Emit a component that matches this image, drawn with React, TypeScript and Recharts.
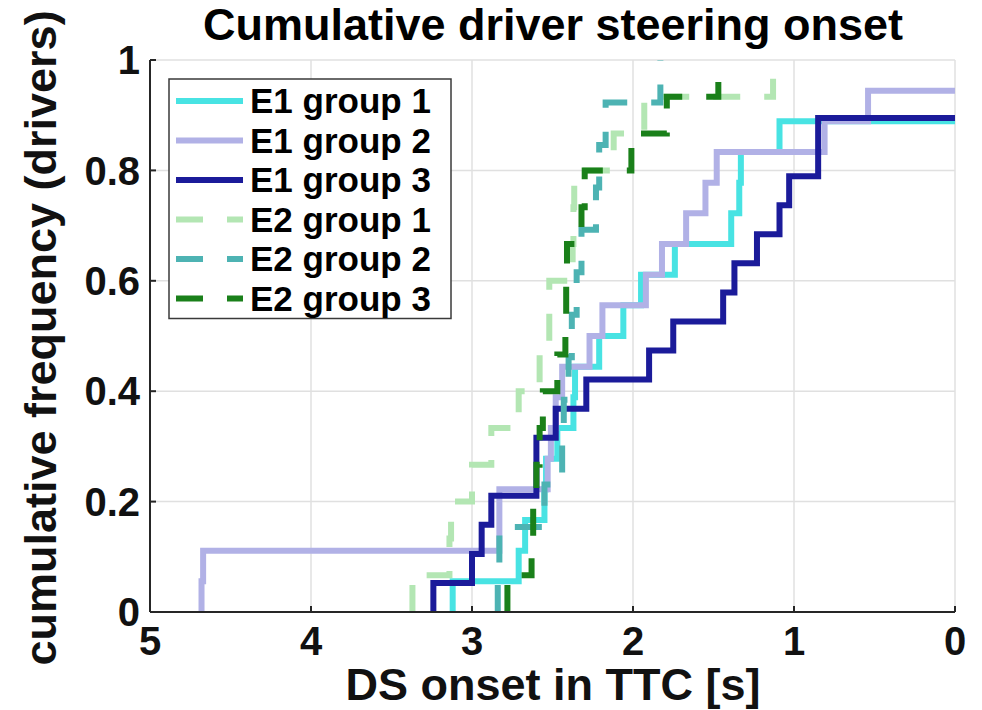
import React from 'react'
import { LineChart, Line, XAxis, YAxis, CartesianGrid } from 'recharts'

// DS onset in TTC [s] for every driver who steered, sorted from early to late
const e1Group1 = [3.12, 2.71, 2.67, 2.55, 2.54, 2.47, 2.37, 2.36, 2.21, 2.06, 1.95, 1.74, 1.39, 1.34, 1.33, 1.09]
const e1Group2 = [4.68, 4.67, 2.83, 2.83, 2.53, 2.51, 2.48, 2.44, 2.27, 2.19, 1.92, 1.82, 1.67, 1.55, 1.48, 0.81, 0.54]
const e1Group3 = [3.24, 3.0, 2.94, 2.88, 2.6, 2.6, 2.48, 2.29, 1.9, 1.75, 1.44, 1.37, 1.23, 1.09, 1.03, 0.85, 0.85]
const e2Group1 = [3.37, 3.14, 3.13, 3.0, 2.88, 2.71, 2.58, 2.52, 2.52, 2.375, 2.37, 2.365, 2.12, 1.93, 1.13]
const e2Group2 = [2.84, 2.83, 2.55, 2.44, 2.43, 2.4, 2.38, 2.35, 2.32, 2.23, 2.21, 2.17, 1.83]
const e2Group3 = [2.78, 2.63, 2.62, 2.6, 2.58, 2.56, 2.47, 2.42, 2.415, 2.41, 2.32, 2.3, 2.01, 1.79, 1.47]

// drivers per group (not all of them steered)
const groupSizes = [18, 18, 19, 15, 13, 15]
const groupNames = ['E1 group 1', 'E1 group 2', 'E1 group 3', 'E2 group 1', 'E2 group 2', 'E2 group 3']
const groupColors = ['#48e3e3', '#b1b1e6', '#1b1b9a', '#b3e6b3', '#4db3b3', '#1a801a']

const xTicks = [0, 1, 2, 3, 4, 5]
const yTicks = [0, 0.2, 0.4, 0.6, 0.8, 1]

const FONT = '"Liberation Sans", Arial, Helvetica, sans-serif'
const DASH = '27 24'
const LINE_W = 6

const ecdf = (onsets: number[], n: number) => {
  const pts = [{ x: onsets[0], y: 0 }]
  onsets.forEach((t, i) => pts.push({ x: t, y: (i + 1) / n }))
  // drivers who steered later than TTC 0 keep the curve running to the edge
  if (onsets.length < n) pts.push({ x: 0, y: onsets.length / n })
  return pts
}

const series = [e1Group1, e1Group2, e1Group3, e2Group1, e2Group2, e2Group3].map((g, i) => ({
  name: groupNames[i],
  color: groupColors[i],
  dashed: i >= 3,
  data: ecdf(g, groupSizes[i]),
}))

const tickStyle = { fill: '#111', fontSize: 40, fontWeight: 700, fontFamily: FONT }

function Legend() {
  const top = 79
  const rowH = 39.5
  return (
    <g>
      <rect x={169} y={top} width={282} height={rowH * 5 + 42} fill="#fff" stroke="#3a3a3a" strokeWidth={1.5} />
      {series.map((s, i) => {
        const cy = top + 22 + i * rowH
        return (
          <g key={s.name}>
            <line
              x1={176}
              x2={243}
              y1={cy}
              y2={cy}
              stroke={s.color}
              strokeWidth={LINE_W}
              strokeDasharray={s.dashed ? DASH : undefined}
            />
            <text x={250} y={cy} dy="0.35em" fontSize={35} fontWeight={700} fontFamily={FONT} fill="#000">
              {s.name}
            </text>
          </g>
        )
      })}
    </g>
  )
}

export default function App() {
  return (
    <div style={{ position: 'absolute', left: 0, top: 0, width: 982, height: 710, background: '#fff' }}>
      <LineChart width={982} height={710} margin={{ top: 60, right: 27, bottom: 0, left: 0 }}>
        <CartesianGrid stroke="#e0e0e0" strokeWidth={1.5} />
        <XAxis
          type="number"
          dataKey="x"
          domain={[0, 5]}
          ticks={xTicks}
          reversed
          allowDataOverflow
          interval={0}
          height={98}
          tickSize={-6}
          tickMargin={21}
          tick={tickStyle}
          axisLine={{ stroke: '#262626', strokeWidth: 2 }}
          tickLine={{ stroke: '#262626', strokeWidth: 2 }}
        />
        <YAxis
          type="number"
          domain={[0, 1]}
          ticks={yTicks}
          allowDataOverflow
          interval={0}
          width={150}
          tickSize={-6}
          tickMargin={16}
          tick={tickStyle}
          axisLine={{ stroke: '#262626', strokeWidth: 2 }}
          tickLine={{ stroke: '#262626', strokeWidth: 2 }}
        />
        {series.map((s) => (
          <Line
            key={s.name}
            data={s.data}
            dataKey="y"
            type="stepAfter"
            stroke={s.color}
            strokeWidth={LINE_W}
            strokeDasharray={s.dashed ? DASH : undefined}
            dot={false}
            activeDot={false}
            isAnimationActive={false}
          />
        ))}
      </LineChart>
      <svg width={982} height={710} style={{ position: 'absolute', left: 0, top: 0, pointerEvents: 'none' }}>
        <text x={553} y={40} textAnchor="middle" fontSize={45} fontWeight={700} fontFamily={FONT} fill="#000">
          Cumulative driver steering onset
        </text>
        <text x={553} y={700} textAnchor="middle" fontSize={45} fontWeight={700} fontFamily={FONT} fill="#111">
          DS onset in TTC [s]
        </text>
        <text
          x={0}
          y={0}
          transform="translate(56 338) rotate(-90)"
          textAnchor="middle"
          fontSize={45}
          fontWeight={700}
          fontFamily={FONT}
          fill="#111"
        >
          cumulative frequency (drivers)
        </text>
        <Legend />
      </svg>
    </div>
  )
}
